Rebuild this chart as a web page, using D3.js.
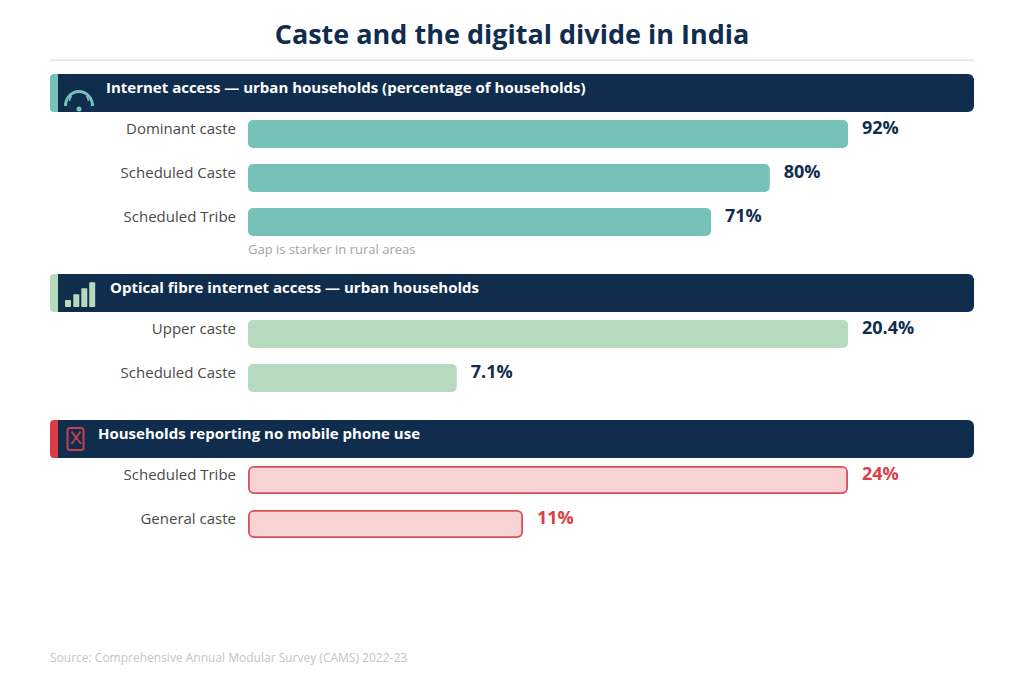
<!DOCTYPE html>
<html>
<head>
<meta charset="utf-8">
<script src="https://cdn.jsdelivr.net/npm/d3@7"></script>
<style>
  html, body { margin: 0; padding: 0; background: #fff; }
  svg { display: block; }
  text { font-family: "Open Sans", sans-serif; }
</style>
</head>
<body>
<div id="chart"></div>
<script>
const chartTitle = "Caste and the digital divide in India";
const sourceNote = "Source: Comprehensive Annual Modular Survey (CAMS) 2022-23";
const ruralNote = "Gap is starker in rural areas";

const internetTitle = "Internet access — urban households (percentage of households)";
const internetGroups = ["Dominant caste", "Scheduled Caste", "Scheduled Tribe"];
const internetValues = [92, 80, 71];
const internetLabels = ["92%", "80%", "71%"];

const fibreTitle = "Optical fibre internet access — urban households";
const fibreGroups = ["Upper caste", "Scheduled Caste"];
const fibreValues = [20.4, 7.1];
const fibreLabels = ["20.4%", "7.1%"];

const mobileTitle = "Households reporting no mobile phone use";
const mobileGroups = ["Scheduled Tribe", "General caste"];
const mobileValues = [24, 11];
const mobileLabels = ["24%", "11%"];

const width = 1024, height = 680;
const left = 50, right = 974;
const barLeft = 248, barRight = 848;
const navy = "#112d4e", teal = "#76c2b8", sage = "#b7d9bd", red = "#dc3c44", pink = "#f8d3d4";

const svg = d3.select("#chart").append("svg")
  .attr("width", width).attr("height", height);

svg.append("text")
  .attr("x", width / 2).attr("y", 44)
  .attr("text-anchor", "middle")
  .attr("font-size", 27).attr("font-weight", 700)
  .attr("fill", navy).text(chartTitle);

svg.append("rect")
  .attr("x", left).attr("y", 59.5).attr("width", right - left).attr("height", 1.5)
  .attr("fill", "#e3e3e3");

// Small glyphs drawn inside each header band
const icons = {
  arc(g) {
    g.append("path")
      .attr("d", "M65.5 106 A13.5 14.5 0 0 1 92.5 106")
      .attr("fill", "none").attr("stroke", teal).attr("stroke-width", 3);
    g.append("path")
      .attr("d", "M71.500 96 Q70 98 69.500 101 M86.500 96 Q88 98 88.500 101")
      .attr("fill", "none").attr("stroke", teal).attr("stroke-width", 1.600);
    g.append("circle").attr("cx", 79).attr("cy", 109).attr("r", 2.500).attr("fill", teal);
  },
  signal(g) {
    [[65, 300, 7], [73.300, 294.300, 12.700], [81.300, 288.300, 18.700], [89.200, 282.300, 24.700]].forEach(([x, y, h]) => {
      g.append("rect").attr("x", x).attr("y", y).attr("width", 6).attr("height", h)
        .attr("rx", 0.800).attr("fill", sage);
    });
  },
  cross(g) {
    g.append("rect")
      .attr("x", 67.500).attr("y", 428).attr("width", 16).attr("height", 22).attr("rx", 2.500)
      .attr("fill", "none").attr("stroke", "#c8404a").attr("stroke-width", 2);
    g.append("path")
      .attr("d", "M71.500 431.500 L81 444 M80.500 431.500 L71.500 444")
      .attr("fill", "none").attr("stroke", "#c8404a").attr("stroke-width", 1.800);
  }
};

function drawPanel(cfg) {
  const g = svg.append("g");
  const x = d3.scaleLinear().domain([0, d3.max(cfg.values)]).range([barLeft, barRight]);
  const y = d3.scaleBand().domain(cfg.groups)
    .range([cfg.top + 38, cfg.top + 38 + cfg.groups.length * 44])
    .paddingInner(16 / 44).paddingOuter(8 / 44);

  // Header band with its coloured accent on the left
  g.append("rect")
    .attr("x", left).attr("y", cfg.top).attr("width", 30).attr("height", 38).attr("rx", 4)
    .attr("fill", cfg.accent);
  g.append("path")
    .attr("d", `M58 ${cfg.top} H${right - 6} a6 6 0 0 1 6 6 V${cfg.top + 32} a6 6 0 0 1 -6 6 H58 Z`)
    .attr("fill", navy);
  g.append("text")
    .attr("x", cfg.titleX).attr("y", cfg.top + 19)
    .attr("font-size", 15).attr("font-weight", 700).attr("fill", "#fff")
    .text(cfg.title);
  icons[cfg.icon](g);

  const row = g.selectAll("g.row").data(cfg.groups).join("g").attr("class", "row");
  row.append("rect")
    .attr("x", barLeft + cfg.inset)
    .attr("y", d => y(d) + cfg.inset)
    .attr("width", (d, i) => x(cfg.values[i]) - barLeft - 2 * cfg.inset)
    .attr("height", y.bandwidth() - 2 * cfg.inset)
    .attr("rx", 5)
    .attr("fill", cfg.fill)
    .attr("stroke", cfg.stroke || "none")
    .attr("stroke-width", cfg.stroke ? 1.800 : 0);
  row.append("text")
    .attr("x", barLeft - 12)
    .attr("y", d => y(d) + 14)
    .attr("text-anchor", "end")
    .attr("font-size", 15).attr("fill", "#4a4a4a")
    .text(d => d);
  row.append("text")
    .attr("x", (d, i) => x(cfg.values[i]) + 14)
    .attr("y", d => y(d) + 14)
    .attr("font-size", 18).attr("font-weight", 700)
    .attr("fill", cfg.labelColor)
    .text((d, i) => cfg.labels[i]);
}

drawPanel({
  top: 74, title: internetTitle, titleX: 106, icon: "arc", accent: teal, fill: teal,
  groups: internetGroups, values: internetValues, labels: internetLabels,
  labelColor: navy, inset: 0
});
svg.append("text")
  .attr("x", barLeft).attr("y", 254)
  .attr("font-size", 13).attr("fill", "#a3a3a3").text(ruralNote);

drawPanel({
  top: 274, title: fibreTitle, titleX: 110, icon: "signal", accent: sage, fill: sage,
  groups: fibreGroups, values: fibreValues, labels: fibreLabels,
  labelColor: navy, inset: 0
});

drawPanel({
  top: 420, title: mobileTitle, titleX: 98, icon: "cross", accent: red, fill: pink, stroke: "#d65058",
  groups: mobileGroups, values: mobileValues, labels: mobileLabels,
  labelColor: "#d93f47", inset: 0.900
});

svg.append("text")
  .attr("x", left).attr("y", 662)
  .attr("font-size", 12).attr("fill", "#c4c4c4").text(sourceNote);
</script>
</body>
</html>
